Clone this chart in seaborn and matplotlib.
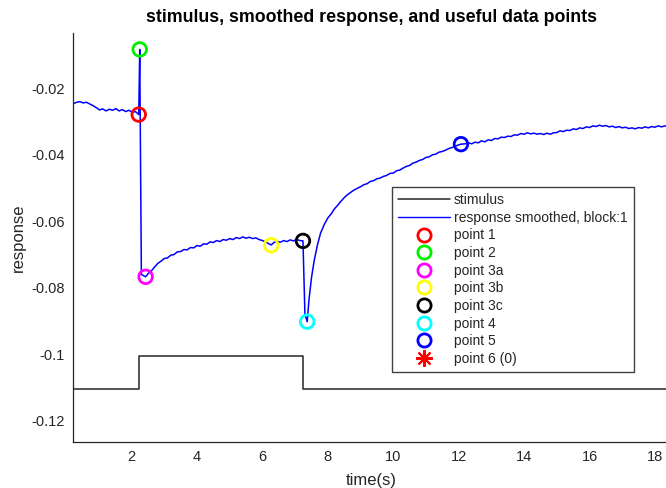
import numpy as np
import pandas as pd
import matplotlib
matplotlib.use("Agg")
import matplotlib.pyplot as plt
from matplotlib.lines import Line2D
import seaborn as sns

# ---------------- data ----------------
stim_t = [0.21, 2.23, 7.23, 18.43]
stim_v = [-0.1105, -0.1005, -0.1105, -0.1105]

resp_t = [
    0.23, 0.32, 0.42, 0.52, 0.62, 0.72, 0.82, 0.92, 1.02, 1.12, 1.22, 1.32, 1.42, 1.52,
    1.62, 1.72, 1.82, 1.92, 2.02, 2.12, 2.22, 2.25, 2.30, 2.43,
    2.52, 2.60, 2.70, 2.80, 2.90, 3.00, 3.10, 3.20, 3.30, 3.40, 3.50, 3.60, 3.70, 3.80,
    3.90, 4.00, 4.10, 4.20, 4.30, 4.40, 4.50, 4.60, 4.70, 4.80, 4.90, 5.00, 5.10, 5.20,
    5.30, 5.40, 5.50, 5.60, 5.70, 5.80, 5.90, 6.00, 6.10, 6.20, 6.27, 6.35, 6.45, 6.55,
    6.65, 6.75, 6.85, 6.95, 7.05, 7.15, 7.24, 7.30, 7.37,
    7.42, 7.50, 7.58, 7.68, 7.78, 7.90, 8.00, 8.10, 8.20, 8.30, 8.40, 8.50, 8.60, 8.70,
    8.80, 8.90, 9.00, 9.10, 9.20, 9.30, 9.40, 9.50, 9.60, 9.70, 9.80, 9.90, 10.00, 10.10,
    10.20, 10.30, 10.40, 10.50, 10.60, 10.70, 10.80, 10.90, 11.00, 11.10, 11.20, 11.30,
    11.40, 11.50, 11.60, 11.70, 11.80, 11.90, 12.00, 12.07, 12.20, 12.30, 12.40, 12.50,
    12.60, 12.70, 12.80, 12.90, 13.00, 13.10, 13.20, 13.30, 13.40, 13.50, 13.60, 13.70,
    13.80, 13.90, 14.00, 14.10, 14.20, 14.30, 14.40, 14.50, 14.60, 14.70, 14.80, 14.90,
    15.00, 15.10, 15.20, 15.30, 15.40, 15.50, 15.60, 15.70, 15.80, 15.90, 16.00, 16.10,
    16.20, 16.30, 16.40, 16.50, 16.60, 16.70, 16.80, 16.90, 17.00, 17.10, 17.20, 17.30,
    17.40, 17.50, 17.60, 17.70, 17.80, 17.90, 18.00, 18.10, 18.20, 18.30, 18.43,
]
resp_v = [
    -0.0246, -0.0242, -0.0240, -0.0244, -0.0242, -0.0247, -0.0252, -0.0258, -0.0265, -0.0262,
    -0.0268, -0.0263, -0.0266, -0.0261, -0.0268, -0.0264, -0.0270, -0.0266, -0.0272, -0.0270,
    -0.0279, -0.0083, -0.0760, -0.0767,
    -0.0756, -0.0750, -0.0738, -0.0727, -0.0720, -0.0712, -0.0710, -0.0702, -0.0700, -0.0692,
    -0.0691, -0.0685, -0.0686, -0.0679, -0.0680, -0.0673, -0.0675, -0.0668, -0.0669, -0.0662,
    -0.0664, -0.0658, -0.0661, -0.0655, -0.0657, -0.0652, -0.0655, -0.0649, -0.0652, -0.0647,
    -0.0651, -0.0648, -0.0652, -0.0650, -0.0655, -0.0658, -0.0662, -0.0668, -0.0671, -0.0664,
    -0.0660, -0.0663, -0.0658, -0.0661, -0.0656, -0.0659, -0.0655, -0.0658, -0.0659, -0.0880,
    -0.0902,
    -0.0840, -0.0770, -0.0720, -0.0672, -0.0635, -0.0608, -0.0590, -0.0578, -0.0563, -0.0552,
    -0.0540, -0.0529, -0.0520, -0.0513, -0.0506, -0.0501, -0.0496, -0.0490, -0.0487, -0.0480,
    -0.0478, -0.0472, -0.0470, -0.0465, -0.0462, -0.0456, -0.0455, -0.0448, -0.0446, -0.0440,
    -0.0435, -0.0432, -0.0425, -0.0422, -0.0417, -0.0414, -0.0408, -0.0406, -0.0400, -0.0398,
    -0.0392, -0.0390, -0.0386, -0.0381, -0.0378, -0.0374, -0.0370, -0.0368, -0.0367, -0.0364,
    -0.0367, -0.0362, -0.0364, -0.0358, -0.0361, -0.0355, -0.0357, -0.0351, -0.0352, -0.0347,
    -0.0348, -0.0344, -0.0345, -0.0340, -0.0341, -0.0336, -0.0338, -0.0334, -0.0337, -0.0335,
    -0.0338, -0.0336, -0.0339, -0.0335, -0.0338, -0.0334, -0.0333, -0.0328, -0.0330, -0.0326,
    -0.0327, -0.0322, -0.0324, -0.0319, -0.0321, -0.0316, -0.0318, -0.0313, -0.0315, -0.0311,
    -0.0314, -0.0312, -0.0316, -0.0314, -0.0318, -0.0315, -0.0319, -0.0317, -0.0321, -0.0319,
    -0.0322, -0.0318, -0.0320, -0.0316, -0.0319, -0.0315, -0.0317, -0.0313, -0.0316, -0.0313,
    -0.0315,
]

point_labels = ["point 1", "point 2", "point 3a", "point 3b", "point 3c", "point 4", "point 5", "point 6 (0)"]
point_t = [2.22, 2.25, 2.43, 6.27, 7.24, 7.37, 12.07, np.nan]
point_v = [-0.0279, -0.0083, -0.0767, -0.0672, -0.0659, -0.0902, -0.0368, np.nan]
point_colors = ["#ff0000", "#00ee00", "#ff00ff", "#ffff00", "#000000", "#00ffff", "#0000ff", "#ff0000"]
point_markers = ["o", "o", "o", "o", "o", "o", "o", (8, 2, 0)]

x_ticks = [2, 4, 6, 8, 10, 12, 14, 16, 18]
y_ticks = [-0.12, -0.1, -0.08, -0.06, -0.04, -0.02]
y_ticklabels = ["-0.12", "-0.1", "-0.08", "-0.06", "-0.04", "-0.02"]

# ---------------- style ----------------
sns.set_style("white")
plt.rcParams["font.family"] = ["Liberation Sans", "DejaVu Sans"]

fig = plt.figure(figsize=(6.66, 4.88), dpi=100)
ax = fig.add_axes([73 / 666, 46 / 488, 596 / 666, 409.3 / 488])

stim_df = pd.DataFrame({"t": stim_t, "v": stim_v})
resp_df = pd.DataFrame({"t": resp_t, "v": resp_v})

sns.lineplot(data=stim_df, x="t", y="v", ax=ax, color="#262626", linewidth=1.1,
             drawstyle="steps-post", estimator=None, sort=False)
sns.lineplot(data=resp_df, x="t", y="v", ax=ax, color="#0000ff", linewidth=1.1,
             estimator=None, sort=False)

for lab, t, v, c, m in zip(point_labels, point_t, point_v, point_colors, point_markers):
    if np.isnan(t):
        continue
    pdf = pd.DataFrame({"t": [t], "v": [v]})
    sns.scatterplot(data=pdf, x="t", y="v", ax=ax, marker=m, s=95,
                    facecolors="none", edgecolor=c, linewidth=2.0, zorder=5)

ax.set_xlim(0.21, 18.43)
ax.set_ylim(-0.1264, -0.00327)
ax.set_xticks(x_ticks)
ax.set_xticklabels([str(x) for x in x_ticks])
ax.set_yticks(y_ticks)
ax.set_yticklabels(y_ticklabels)

for side in ["top", "right"]:
    ax.spines[side].set_visible(False)
for side in ["left", "bottom"]:
    ax.spines[side].set_color("#262626")
    ax.spines[side].set_linewidth(0.9)

ax.tick_params(axis="both", direction="in", length=5, width=0.9, color="#262626",
               labelcolor="#262626", labelsize=10.5, pad=6)

ax.set_xlabel("time(s)", fontsize=12, color="#262626", labelpad=6)
ax.set_ylabel("response", fontsize=12, color="#262626", labelpad=4)
ax.set_title("stimulus, smoothed response, and useful data points",
             fontsize=12.8, fontweight="bold", color="#000000", pad=8)

handles = [
    Line2D([], [], color="#262626", linewidth=1.1),
    Line2D([], [], color="#0000ff", linewidth=1.0),
]
for c, m in zip(point_colors, point_markers):
    if m == "o":
        handles.append(Line2D([], [], linestyle="none", marker="o", markersize=9.5,
                              markerfacecolor="none", markeredgecolor=c, markeredgewidth=2.0))
    else:
        handles.append(Line2D([], [], linestyle="none", marker=m, markersize=12,
                              markerfacecolor="none", markeredgecolor=c, markeredgewidth=1.5))
labels = ["stimulus", "response smoothed, block:1"] + point_labels

leg = ax.legend(handles, labels, loc="upper left", bbox_to_anchor=(392 / 666, (488 - 187) / 488),
                bbox_transform=fig.transFigure, borderaxespad=0, fontsize=10,
                frameon=True, fancybox=False, edgecolor="#404040", framealpha=1,
                handlelength=3.7, handletextpad=0.3, labelspacing=0.26, borderpad=0.45)
leg.get_frame().set_linewidth(1.0)
for txt in leg.get_texts():
    txt.set_color("#262626")

fig.savefig("out.png", dpi=100)
